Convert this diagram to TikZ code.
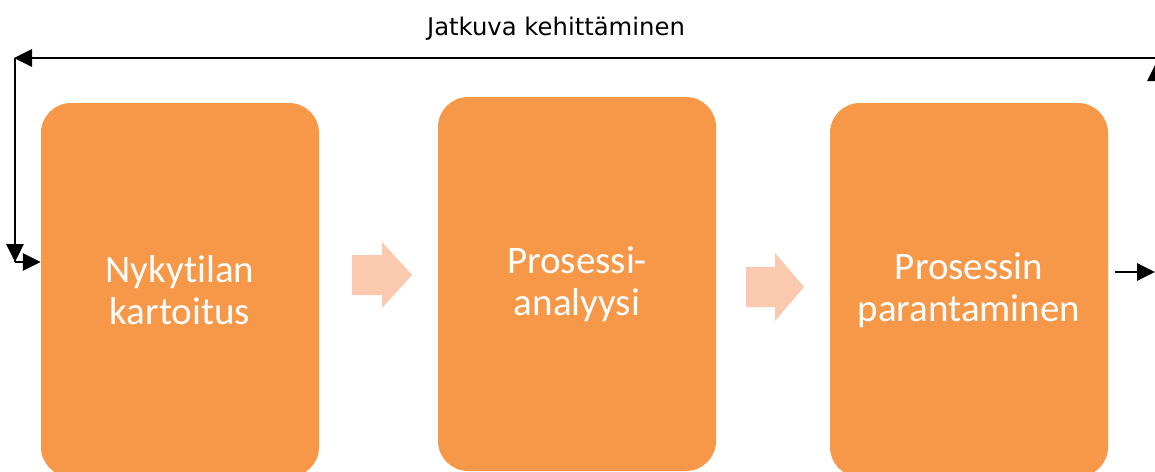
\documentclass[tikz,border=0pt]{standalone}
\usepackage{fontspec}
\setmainfont[Ligatures={NoCommon}]{Carlito}
\newfontfamily\titlefont{DejaVu Sans}
\usetikzlibrary{arrows.meta}
\definecolor{boxorange}{RGB}{247,151,72}
\definecolor{arrowpeach}{RGB}{250,201,174}
\tikzset{
  stagebox/.style={fill=boxorange, rounded corners=30pt, minimum width=278pt,
    inner sep=0pt, text=white, align=center,
    font=\fontsize{39}{42}\selectfont},
  conn/.style={line width=2.8pt, -{Triangle[length=18pt,width=17pt]}},
  blockarrow/.style={fill=arrowpeach}
}
\begin{document}
\begin{tikzpicture}[x=1pt,y=-1pt]
\useasboundingbox (0,0) rectangle (1155,471);
\clip (0,0) rectangle (1155,471);
% title
\node[font=\titlefont\fontsize{24.3}{28}\selectfont, anchor=base] (title) at (556,35) {Jatkuva kehittäminen};
% boxes
\node[stagebox, minimum height=374pt] (b1) at (180,290) {Nykytilan\\kartoitus};
\node[stagebox, minimum height=374pt] (b2) at (577,284) {Prosessi-\\analyysi};
\node[stagebox, minimum height=374pt] (b3) at (969,290) {Prosessin\\parantaminen};
% block arrows
\fill[blockarrow] (352,255) -- (382,255) -- (382,242) -- (412,275) -- (382,308) -- (382,295) -- (352,295) -- cycle;
\fill[blockarrow] (746,267) -- (775,267) -- (775,253) -- (804,287) -- (775,321) -- (775,307) -- (746,307) -- cycle;
% feedback loop
\coordinate (tr) at (1160,58);
\coordinate (tl) at (14,58);
\coordinate (bl) at (15,262);
\coordinate (rs) at (1115,272);
\coordinate (re) at (1155,272);
\coordinate (rv) at (1156,272);
\coordinate (rt) at (1156,63);
\draw[conn] (tr) -- (tl);
\draw[line width=2.8pt] (15,58) -- (bl);
\draw[conn] (15,58) -- (bl);
\draw[conn] (bl) -- (b1.west |- bl);
\draw[conn] (rs) -- (re);
\draw[conn] (rv) -- (rt);
\end{tikzpicture}
\end{document}
